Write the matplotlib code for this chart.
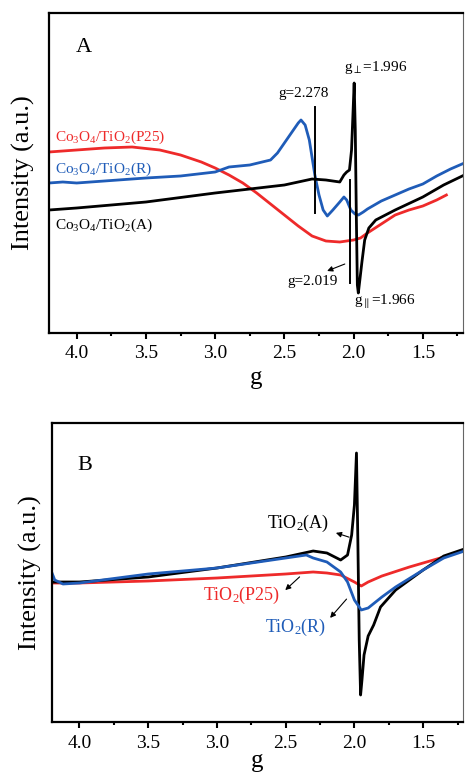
import matplotlib
matplotlib.use("Agg")
import matplotlib.pyplot as plt
from matplotlib.ticker import MultipleLocator

plt.rcParams['font.family'] = ['Liberation Serif', 'DejaVu Serif']
plt.rcParams['mathtext.fontset'] = 'custom'
plt.rcParams['mathtext.rm'] = 'Liberation Serif'
plt.rcParams['mathtext.it'] = 'Liberation Serif'
plt.rcParams['mathtext.bf'] = 'Liberation Serif'

RED = '#ee2a2a'
BLUE = '#1f5cb8'

# ---- panel A: Co3O4/TiO2 samples (g value, intensity a.u.)
a_black_g = [4.2, 4.0, 3.5, 3.0, 2.5, 2.3, 2.2, 2.1, 2.07, 2.05, 2.03, 2.015, 2.005, 1.996,
             1.988, 1.98, 1.973, 1.966, 1.955, 1.94, 1.92, 1.89, 1.84, 1.7, 1.5, 1.35, 1.2]
a_black_y = [123, 125, 131, 140, 148, 154, 153, 151, 158, 161, 163, 183, 218, 250,
             203, 113, 48, 40, 53, 71, 93, 105, 113, 123, 136, 148, 158]

a_red_g = [4.2, 4.0, 3.8, 3.6, 3.4, 3.25, 3.1, 3.0, 2.9, 2.8, 2.7, 2.6, 2.5, 2.4, 2.3,
           2.2, 2.1, 2.0, 1.95, 1.9, 1.8, 1.7, 1.6, 1.5, 1.4, 1.33]
a_red_y = [181, 183, 185, 186, 183, 178, 171, 165, 158, 150, 140, 129, 118, 107, 97,
           92, 91, 93, 95, 100, 109, 118, 123, 127, 133, 138]

a_blue_g = [4.2, 4.1, 4.0, 3.8, 3.5, 3.25, 3.0, 2.9, 2.75, 2.6, 2.55, 2.5, 2.45, 2.4, 2.38,
            2.35, 2.32, 2.28, 2.25, 2.22, 2.19, 2.15, 2.1, 2.07, 2.05, 2.02, 1.99, 1.965,
            1.93, 1.9, 1.8, 1.7, 1.6, 1.5, 1.4, 1.3, 1.2]
a_blue_y = [150, 151, 150, 152, 155, 157, 161, 166, 168, 173, 180, 190, 200, 210, 213,
            208, 193, 158, 138, 123, 117, 123, 131, 136, 133, 123, 119, 118,
            121, 124, 132, 138, 144, 149, 157, 164, 170]

# ---- panel B: bare TiO2 samples
b_black_g = [4.2, 4.0, 3.5, 3.0, 2.5, 2.3, 2.2, 2.1, 2.05, 2.02, 2.0, 1.985, 1.975, 1.965,
             1.955, 1.945, 1.93, 1.9, 1.86, 1.81, 1.7, 1.5, 1.35, 1.2]
b_black_y = [140, 140, 145, 154, 165, 171, 169, 162, 167, 187, 217, 269, 182, 82,
             27, 42, 67, 86, 97, 115, 132, 152, 166, 173]

b_blue_g = [4.2, 4.18, 4.12, 4.0, 3.5, 3.0, 2.5, 2.35, 2.3, 2.2, 2.1, 2.05, 2.0, 1.95,
            1.9, 1.8, 1.7, 1.5, 1.35, 1.2]
b_blue_y = [149, 142, 138, 139, 148, 154, 164, 167, 164, 160, 150, 140, 122, 112,
            114, 125, 135, 152, 164, 171]

b_red_g = [4.2, 4.0, 3.5, 3.0, 2.5, 2.3, 2.2, 2.1, 2.0, 1.95, 1.9, 1.8, 1.6, 1.5, 1.35, 1.2]
b_red_y = [139, 139, 141, 144, 148, 150, 149, 147, 140, 136, 140, 146, 155, 159, 165, 172]

fig = plt.figure(figsize=(4.65, 7.75), dpi=100)
axA = fig.add_axes([49 / 465, 1 - 333 / 775, 414 / 465, 320 / 775])
axB = fig.add_axes([52 / 465, 1 - 722 / 775, 411 / 465, 299 / 775])


def style(ax, ymax, lab_y, xlab_y):
    ax.set_xlim(4.2, 1.21)
    ax.set_ylim(0, ymax)
    ax.xaxis.set_major_locator(MultipleLocator(0.5))
    ax.xaxis.set_minor_locator(MultipleLocator(0.25))
    ax.xaxis.set_major_formatter(plt.FuncFormatter(lambda v, p: f"{v:.1f}"))
    ax.set_yticks([])
    ax.tick_params(axis='x', which='major', direction='out', length=4, width=1.5,
                   labelsize=14, pad=5)
    ax.tick_params(axis='x', which='minor', direction='out', length=2.5, width=1.5)
    for s in ['left', 'bottom', 'top']:
        ax.spines[s].set_linewidth(1.6)
    ax.spines['right'].set_linewidth(0.8)
    ax.spines['right'].set_color('#666666')
    ax.set_ylabel('Intensity (a.u.)', fontsize=19)
    ax.yaxis.set_label_coords(lab_y, 0.5)
    ax.set_xlabel('g', fontsize=18)
    ax.xaxis.set_label_coords(0.5, xlab_y)


LW = 2.0

# panel A
axA.plot(a_red_g, a_red_y, color=RED, lw=LW)
axA.plot(a_blue_g, a_blue_y, color=BLUE, lw=LW)
axA.plot(a_black_g, a_black_y, color='black', lw=LW)
style(axA, 320, -0.034, -0.106)

axA.text(4.01, 285, 'A', fontsize=16, va='center', ha='left')
axA.text(4.16, 196, r'Co$_\mathrm{3}$O$_\mathrm{4}$/TiO$_\mathrm{2}$(P25)', color=RED,
         fontsize=11, va='center')
axA.text(4.16, 164, r'Co$_\mathrm{3}$O$_\mathrm{4}$/TiO$_\mathrm{2}$(R)', color=BLUE,
         fontsize=11, va='center')
axA.text(4.16, 108, r'Co$_\mathrm{3}$O$_\mathrm{4}$/TiO$_\mathrm{2}$(A)', color='black',
         fontsize=11, va='center')

axA.plot([2.278, 2.278], [120, 226], color='black', lw=1.4)
axA.plot([2.025, 2.025], [50, 153], color='black', lw=1.4)
axA.annotate('', xy=(2.21, 61), xytext=(2.045, 70),
             arrowprops=dict(arrowstyle='-|>', color='black', lw=0.8,
                             mutation_scale=8))
axA.text(2.364, 240, 'g=2.278', fontsize=11, ha='center', va='center')
axA.text(2.068, 266, r'g$_\perp$=1.996', fontsize=11, ha='left', va='center')
axA.text(2.478, 51, 'g=2.019', fontsize=11, ha='left', va='center')
axA.text(1.996, 31, r'g$_\parallel$=1.966', fontsize=11, ha='left', va='center')

# panel B
axB.plot(b_red_g, b_red_y, color=RED, lw=LW)
axB.plot(b_black_g, b_black_y, color='black', lw=LW)
axB.plot(b_blue_g, b_blue_y, color=BLUE, lw=LW)
style(axB, 299, -0.024, -0.094)

axB.text(4.015, 257, 'B', fontsize=16, va='center', ha='left')
axB.text(2.637, 199, r'TiO$_\mathrm{2}$(A)', color='black', fontsize=13, va='center')
axB.text(3.103, 127, r'TiO$_\mathrm{2}$(P25)', color=RED, fontsize=13, va='center')
axB.text(2.652, 95, r'TiO$_\mathrm{2}$(R)', color=BLUE, fontsize=13, va='center')

arrow = dict(arrowstyle='-|>', color='black', lw=0.8, mutation_scale=8)
axB.annotate('', xy=(2.154, 190), xytext=(2.02, 184), arrowprops=arrow)
axB.annotate('', xy=(2.518, 130), xytext=(2.384, 147), arrowprops=arrow)
axB.annotate('', xy=(2.19, 102), xytext=(2.044, 125), arrowprops=arrow)

fig.savefig('out.png', dpi=100)
